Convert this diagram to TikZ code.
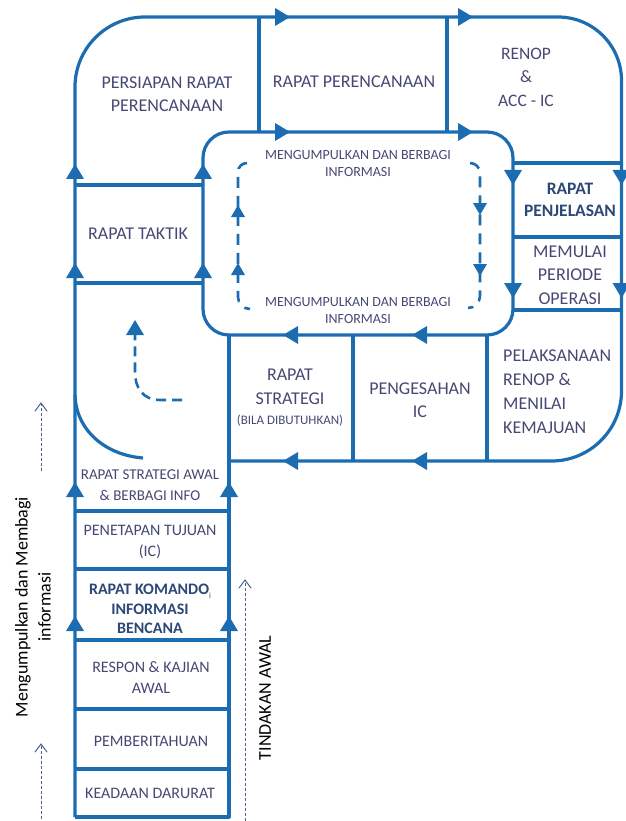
\documentclass[tikz,border=0pt]{standalone}
\usepackage{fontspec}
\setmainfont{Carlito}
\definecolor{flow}{RGB}{28,108,178}
\definecolor{lbl}{RGB}{70,72,116}
\definecolor{lbldark}{RGB}{44,72,118}
\definecolor{guide}{RGB}{72,100,148}
\tikzset{
  flowline/.style={draw=flow,line width=3.2pt,line join=round},
  loopdash/.style={draw=flow,line width=2.6pt,dash pattern=on 11pt off 8pt},
  guideline/.style={draw=guide,line width=0.9pt,dash pattern=on 3pt off 2pt},
  guidehead/.style={draw=guide,line width=1pt,line cap=round,line join=miter},
  lab/.style={text=lbl,align=center,inner sep=0pt},
  big/.style={font=\fontsize{18}{23.5}\selectfont},
  mid/.style={font=\fontsize{16}{21}\selectfont},
  small/.style={font=\fontsize{14}{17}\selectfont},
  side/.style={text=black,align=center,inner sep=0pt,rotate=90,font=\fontsize{18}{23}\selectfont},
  tri/.pic={\fill[flow] (0,0) -- (-15,9) -- (-15,-9) -- cycle;},
  minitri/.pic={\fill[flow] (0,0) -- (-12,7) -- (-12,-7) -- cycle;},
}
\begin{document}
\begin{tikzpicture}[x=1pt,y=-1pt]
\useasboundingbox (0,0) rectangle (625,821);

% outer track (y grows downward, so angles run clockwise on the page)
\draw[flowline] (75,817) -- (75,87) arc[start angle=180,end angle=270,radius=70]
  -- (558,17) arc[start angle=270,end angle=360,radius=63.5]
  -- (621.5,391) arc[start angle=0,end angle=90,radius=70] -- (229,461);
\draw[flowline] (75,817) -- (229,817) -- (229,335);

% inner loop
\draw[flowline,rounded corners=26] (203,132) rectangle (513,335);

% cell dividers
\draw[flowline] (259,17) -- (259,132);
\draw[flowline] (447,17) -- (447,132);
\draw[flowline] (513,163) -- (621.5,163);
\draw[flowline] (513,237) -- (621.5,237);
\draw[flowline] (513,310) -- (621.5,310);
\draw[flowline] (353,335) -- (353,461);
\draw[flowline] (487,335) -- (487,461);
\draw[flowline] (75,185) -- (203,185);
\draw[flowline] (75,283) -- (203,283);
\foreach \yy in {511,569,640,709,769}
  \draw[flowline] (75,\yy) -- (229,\yy);
\draw[flowline] (75,395) .. controls (76,430) and (105,455) .. (143,458);

% direction markers on the track
\foreach \p in {(75,164),(75,263),(203,164),(203,263),(75,482),(75,616),(229,482),(229,616)}
  \pic[rotate=90] at \p {tri};
\foreach \p in {(290,17),(473,17),(290,132),(473,132)}
  \pic at \p {tri};
\foreach \p in {(513,185),(513,298),(621.5,185),(621.5,298)}
  \pic[rotate=-90] at \p {tri};
\foreach \p in {(283,335),(412,335),(283,461),(412,461)}
  \pic[rotate=180] at \p {tri};

% dashed information loop
\draw[loopdash] (247,163) arc[start angle=270,end angle=180,radius=9] -- (238,297)
  arc[start angle=180,end angle=90,radius=12];
\draw[loopdash] (470,163) arc[start angle=270,end angle=360,radius=10] -- (480,296)
  arc[start angle=0,end angle=90,radius=12];
\pic[rotate=90] at (238,205) {minitri};
\pic[rotate=90] at (238,263) {minitri};
\pic[rotate=-90] at (480,215) {minitri};
\pic[rotate=-90] at (480,276) {minitri};

% dashed turn-back arrow
\draw[loopdash,dash pattern=on 10pt off 6pt] (182,400) -- (160,400)
  .. controls (143,400) and (135,388) .. (135,372) -- (135,334);
\pic[rotate=90] at (135,320) {tri};

% side guide arrows: dotted shaft plus open chevron head
\coordinate (g1s) at (41,471); \coordinate (g1e) at (41,403);
\coordinate (g2s) at (41,819); \coordinate (g2e) at (41,744);
\coordinate (g3s) at (245,821); \coordinate (g3e) at (245,580);
\foreach \s/\e in {g1s/g1e,g2s/g2e,g3s/g3e}{
  \draw[guideline] (\s) -- (\e);
  \draw[guidehead] (\e) ++(-6,8) -- (\e) -- ++(6,8);
}

% labels
\node[lab,big] (persiapan) at (167,94) {PERSIAPAN RAPAT\\PERENCANAAN};
\node[lab,big] (rapren) at (354,82) {RAPAT PERENCANAAN};
\node[lab,big,font=\fontsize{17.5}{23.5}\selectfont] (renop) at (526,77) {RENOP\\\&\\ACC - IC};
\node[lab,big] (taktik) at (138,234) {RAPAT TAKTIK};
\node[lab,text=lbldark,font=\bfseries\fontsize{17.5}{22}\selectfont] (penjelasan) at (570,200) {RAPAT\\PENJELASAN};
\node[lab,big] (memulai) at (570,275) {MEMULAI\\PERIODE\\OPERASI};
\node[lab,small] (infotop) at (358,164) {MENGUMPULKAN DAN BERBAGI\\INFORMASI};
\node[lab,small] (infobot) at (358,311) {MENGUMPULKAN DAN BERBAGI\\INFORMASI};
\node[lab,big] (strategi) at (290,398) {RAPAT\\STRATEGI\\[-3pt]{\fontsize{13}{15}\selectfont (BILA DIBUTUHKAN)}};
\node[lab,big,font=\fontsize{18}{23}\selectfont] (pengesahan) at (420,400) {PENGESAHAN\\IC};
\node[lab,big,align=left,font=\fontsize{18}{24}\selectfont,anchor=west] (pelaksanaan) at (503,392) {PELAKSANAAN\\RENOP \&\\MENILAI\\KEMAJUAN};
\node[lab,font=\fontsize{15}{21}\selectfont] (awal) at (150,485) {RAPAT STRATEGI AWAL\\\& BERBAGI INFO};
\node[lab,mid] (tujuan) at (150,542) {PENETAPAN TUJUAN\\(IC)};
\node[lab,text=lbldark,font=\bfseries\fontsize{16}{19.5}\selectfont] (komando) at (150,609)
  {RAPAT KOMANDO\raisebox{-4pt}{\fontsize{8}{8}\selectfont\mdseries i}\\INFORMASI\\BENCANA};
\node[lab,mid] (respon) at (151,678) {RESPON \& KAJIAN\\AWAL};
\node[lab,mid] (pemberitahuan) at (151,741) {PEMBERITAHUAN};
\node[lab,mid] (darurat) at (150,793) {KEADAAN DARURAT};

% side captions
\node[side] (kumpul) at (33,607) {Mengumpulkan dan Membagi\\informasi};
\node[side] (tindakan) at (265,698) {TINDAKAN AWAL};
\end{tikzpicture}
\end{document}
